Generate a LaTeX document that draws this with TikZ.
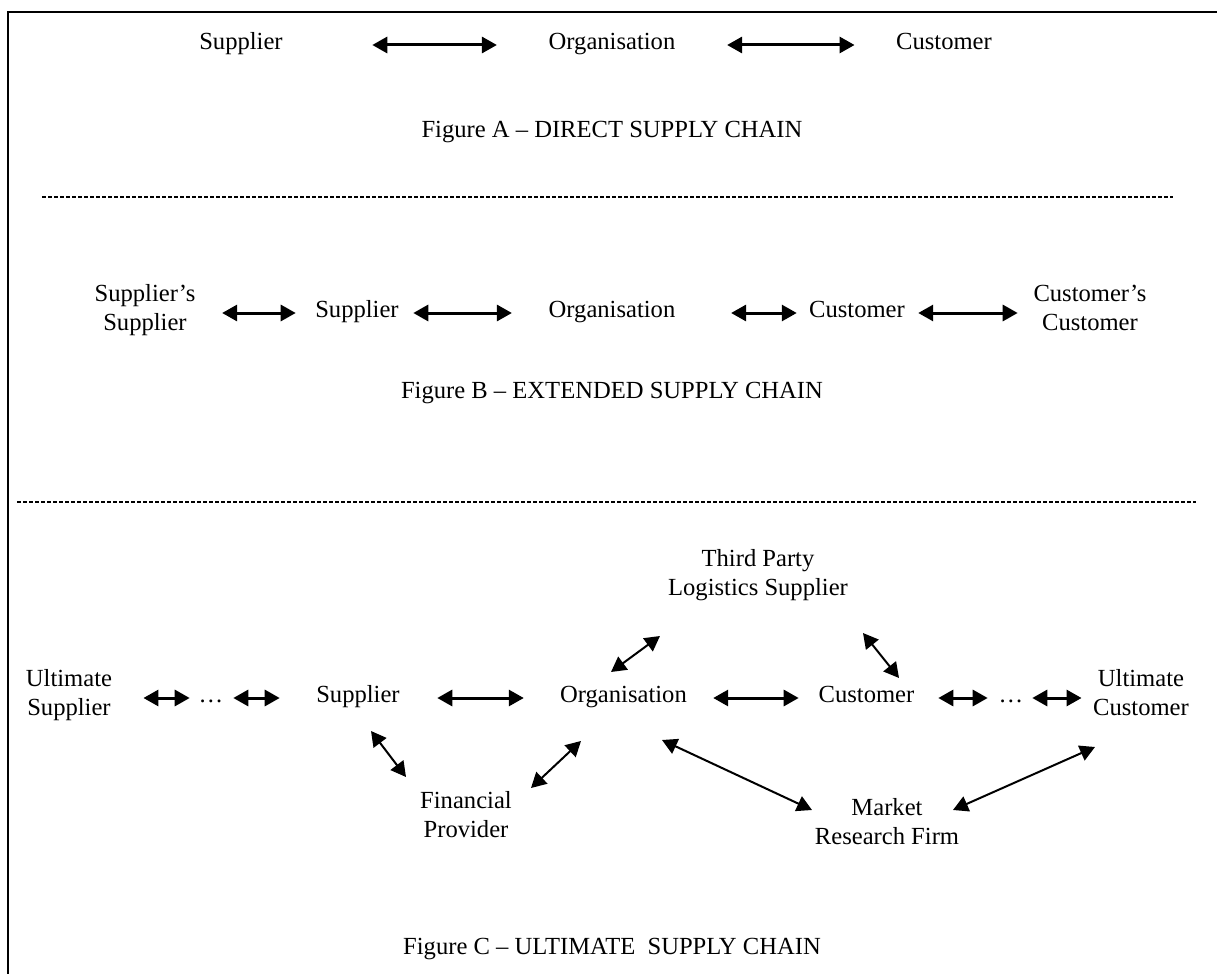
\documentclass[tikz,border=0pt]{standalone}
\usepackage{fontspec}
\setmainfont{Liberation Serif}
\usetikzlibrary{arrows.meta}

\begin{document}
\begin{tikzpicture}[x=0.5pt, y=-0.5pt, >={Triangle[length=7.5pt,width=8pt]},
    every node/.style={align=center, inner sep=0pt, yshift=-2pt, font=\fontsize{12.3pt}{14.5pt}\selectfont,
      execute at begin node=\strut, execute at end node=\strut},
    flow/.style={<->, line width=1.5pt, transform canvas={yshift=-0.5pt}},
    link/.style={<->, line width=1pt}]
  \useasboundingbox (0,0) rectangle (1217,974);
  \draw[line width=1pt] (1217,12) -- (8,12) -- (8,974);

  % Figure A
  \node (supA) at (241,40) {Supplier};
  \node (orgA) at (612,40) {Organisation};
  \node (custA) at (944,40) {Customer};
  \draw[flow, shorten <=44.6pt, shorten >=25.7pt] (supA.east) -- (orgA.west);
  \draw[flow, shorten <=25.7pt, shorten >=20.6pt] (orgA.east) -- (custA.west);
  \node (capA) at (612,128) {Figure A -- DIRECT SUPPLY CHAIN};

  \draw[line width=0.6pt, dash pattern=on 2pt off 1pt] (42,197) -- (1173,197);

  % Figure B
  \node (supsB) at (145,308) {Supplier’s\\Supplier};
  \node (supB) at (357,308) {Supplier};
  \node (orgB) at (612,308) {Organisation};
  \node (custB) at (857,308) {Customer};
  \node (custsB) at (1090,308) {Customer’s\\Customer};
  \draw[flow, shorten <=13.2pt, shorten >=9.6pt] (supsB.east) -- (supB.west);
  \draw[flow, shorten <=7.1pt, shorten >=18.2pt] (supB.east) -- (orgB.west);
  \draw[flow, shorten <=27.7pt, shorten >=6pt] (orgB.east) -- (custB.west);
  \draw[flow, shorten <=6.5pt, shorten >=7.7pt] (custB.east) -- (custsB.west);
  \node (capB) at (612,389) {Figure B -- EXTENDED SUPPLY CHAIN};

  \draw[line width=0.6pt, dash pattern=on 2pt off 1pt] (17,502) -- (1196,502);

  % Figure C
  \node (ultsup) at (69,693) {Ultimate\\Supplier};
  \node (dotsL) at (211,693) {…};
  \node (supC) at (358,693) {Supplier};
  \node (orgC) at (623.5,693) {Organisation};
  \node (custC) at (866.5,693) {Customer};
  \node (dotsR) at (1011,693) {…};
  \node (ultcust) at (1141,693) {Ultimate\\Customer};
  \node (tpl) at (758,572.5) {Third Party\\Logistics Supplier};
  \node (fin) at (466,814.5) {Financial\\Provider};
  \node (mrf) at (887,821.5) {Market\\Research Firm};

  \draw[flow, shorten <=15.5pt, shorten >=4.3pt] (ultsup.east) -- (dotsL.west);
  \draw[flow, shorten <=4.8pt, shorten >=18.1pt] (dotsL.east) -- (supC.west);
  \draw[flow, shorten <=18.6pt, shorten >=18pt] (supC.east) -- (orgC.west);
  \draw[flow, shorten <=13pt, shorten >=9.8pt] (orgC.east) -- (custC.west);
  \draw[flow, shorten <=11.8pt, shorten >=5.3pt] (custC.east) -- (dotsR.west);
  \draw[flow, shorten <=4.3pt, shorten >=5.6pt] (dotsR.east) -- (ultcust.west);

  \draw[link] ([shift={(13,34)}]supC.center) -- ([shift={(-60,-41.5)}]fin.center);
  \draw[link] ([shift={(65,-30.5)}]fin.center) -- ([shift={(-42.5,44)}]orgC.center);
  \draw[link] ([shift={(-12.5,-25)}]orgC.center) -- ([shift={(-98,59.5)}]tpl.center);
  \draw[link] ([shift={(105,56.5)}]tpl.center) -- ([shift={(32.5,-19)}]custC.center);
  \draw[link] ([shift={(38.5,43)}]orgC.center) -- ([shift={(-75,-15.5)}]mrf.center);
  \draw[link] ([shift={(66,-15.5)}]mrf.center) -- ([shift={(-46,50)}]ultcust.center);
  \node (capC) at (612,945) {Figure C -- ULTIMATE~ SUPPLY CHAIN};
\end{tikzpicture}
\end{document}
